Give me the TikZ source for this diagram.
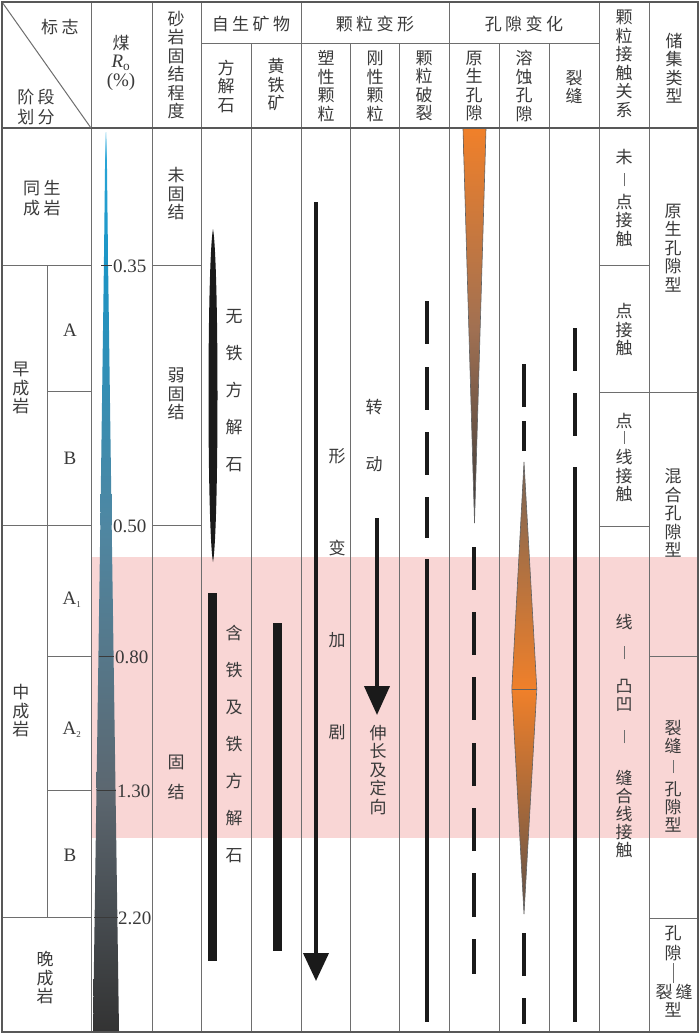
\documentclass[tikz,border=0pt]{standalone}
\usepackage{fontspec}
\setmainfont{Liberation Serif}
\newfontfamily\cjk{Noto Sans CJK SC}
\usetikzlibrary{arrows.meta}
\definecolor{gridc}{HTML}{6E6E6E}
\definecolor{txt}{HTML}{3A3A3A}
\definecolor{pinkc}{HTML}{F9D6D5}
\definecolor{barc}{HTML}{1A1A1A}
\definecolor{orng}{HTML}{F0802A}
\definecolor{brwn}{HTML}{A07052}
\definecolor{dgray}{HTML}{3A3A3A}
\newcommand\vbarx{\textcolor{gridc}{\rule{0.6pt}{13pt}}}
\newcommand\gapx{\hspace{3.5pt}}
\begin{document}
\begin{tikzpicture}[x=1pt,y=-1pt,
  grid/.style={draw=gridc,line width=1pt},
  frame/.style={draw=gridc!80!black,line width=1.3pt},
  cn/.style={font=\cjk\fontsize{17}{18.5}\selectfont,text=txt,align=center,inner sep=0pt},
  cnw/.style={font=\cjk\fontsize{17}{37}\selectfont,text=txt,align=center,inner sep=0pt},
  lat/.style={font=\fontsize{19}{19}\selectfont,text=txt,inner sep=0pt},
  num/.style={font=\fontsize{19}{19}\selectfont,text=txt,inner sep=0pt,anchor=west},
  barline/.style={draw=barc,line width=4pt},
  tick/.style={draw=dgray,line width=1pt},
  outl/.style={draw=dgray!80,line width=0.6pt}]
\useasboundingbox (0,0) rectangle (700,1034);
\fill[white] (0,0) rectangle (700,1034);
% pink band
\fill[pinkc] (91,557) rectangle (698,838);

% ---------- grid ----------
\foreach \x in {91,152,201,301,449,599,649} \draw[grid] (\x,2) -- (\x,1032);
\foreach \x in {251,350,399,499,549} \draw[grid] (\x,43) -- (\x,1032);
\draw[grid] (201,43) -- (599,43);
\draw[frame] (2,128) -- (698,128);
\draw[grid] (2,2) -- (91,128);
\draw[grid] (47,265) -- (47,917);
\draw[grid] (2,265) -- (91,265);
\draw[grid] (47,391) -- (91,391);
\draw[grid] (2,525) -- (91,525);
\draw[grid] (47,656) -- (91,656);
\draw[grid] (47,790) -- (91,790);
\draw[grid] (2,917) -- (91,917);
\draw[grid] (152,265) -- (201,265);
\draw[grid] (152,525) -- (201,525);
\draw[grid] (599,265) -- (649,265);
\draw[grid] (599,392) -- (649,392);
\draw[grid] (599,526) -- (649,526);
\draw[grid] (649,392) -- (698,392);
\draw[grid] (649,656) -- (698,656);
\draw[grid] (649,918) -- (698,918);
\draw[frame] (2,2) rectangle (698,1032);

% ---------- header ----------
\node[cn] (hbz) at (60,27) {标\gapx 志};
\node[cn,font=\cjk\fontsize{17}{20}\selectfont] (hjd) at (36,107) {阶\gapx 段\\划\gapx 分};
\node[cn] (hmei) at (121,43) {煤};
\node[lat] (hro) at (121,63) {\textit{R}\textsubscript{o}};
\node[lat] (hpc) at (121,82) {(\%)};
\node[cn] (hss) at (176,65) {砂\\岩\\固\\结\\程\\度};
\node[cn] (hzs) at (251,24) {自\gapx 生\gapx 矿\gapx 物};
\node[cn] (hkl) at (375,24) {颗\gapx 粒\gapx 变\gapx 形};
\node[cn] (hkx) at (524,24) {孔\gapx 隙\gapx 变\gapx 化};
\node[cn] (hfj) at (226,86) {方\\解\\石};
\node[cn] (hht) at (276,85) {黄\\铁\\矿};
\node[cn] (hsx) at (326,86) {塑\\性\\颗\\粒};
\node[cn] (hgx) at (375,86) {刚\\性\\颗\\粒};
\node[cn] (hpl) at (424,86) {颗\\粒\\破\\裂};
\node[cn] (hys) at (474,86) {原\\生\\孔\\隙};
\node[cn] (hrs) at (524,86) {溶\\蚀\\孔\\隙};
\node[cn] (hlf) at (574,87) {裂\\缝};
\node[cn] (hjc) at (624,64) {颗\\粒\\接\\触\\关\\系};
\node[cn] (hcj) at (674,68) {储\\集\\类\\型};

% ---------- stage column ----------
\node[cn,font=\cjk\fontsize{17}{20}\selectfont] (tsc) at (42,198) {同\gapx 生\\成\gapx 岩};
\node[cn] (zcy) at (21,388) {早\\成\\岩};
\node[cn] (mcy) at (21,711) {中\\成\\岩};
\node[cn] (wcy) at (45,978) {晚\\成\\岩};
\node[lat] (sA) at (70,330) {A};
\node[lat] (sB) at (70,458) {B};
\node[lat] (sA1) at (72,600) {A\textsubscript{\fontsize{9}{9}\selectfont 1}};
\node[lat] (sA2) at (72,730) {A\textsubscript{\fontsize{9}{9}\selectfont 2}};
\node[lat] (sB2) at (70,855) {B};

% ---------- coal Ro triangle ----------
\shade[top color={rgb,255:red,215;green,240;blue,250}, bottom color={rgb,255:red,40;green,164;blue,214}] (105.3,132) -- (106.7,132) -- (106.9,160.3) -- (105.1,160.3) -- cycle;
\shade[top color={rgb,255:red,40;green,164;blue,214}, bottom color={rgb,255:red,28;green,148;blue,196}] (105.1,160) -- (106.9,160) -- (108.1,265.3) -- (103.9,265.3) -- cycle;
\shade[top color={rgb,255:red,28;green,148;blue,196}, bottom color={rgb,255:red,79;green,135;blue,162}] (103.9,265) -- (108.1,265) -- (111.68,525.3) -- (100.32,525.3) -- cycle;
\shade[top color={rgb,255:red,79;green,135;blue,162}, bottom color={rgb,255:red,92;green,103;blue,112}] (100.32,525) -- (111.68,525) -- (115.52,790.3) -- (96.48,790.3) -- cycle;
\shade[top color={rgb,255:red,92;green,103;blue,112}, bottom color={rgb,255:red,51;green,51;blue,51}] (96.48,790) -- (115.52,790) -- (119,1031) -- (93,1031) -- cycle;
\draw[tick] (101,265) -- (112,265);
\draw[tick] (99,656) -- (114,656);
\draw[tick] (97,790) -- (116,790);
\draw[tick] (94,917) -- (118,917);
\node[num] (r035) at (113,266) {0.35};
\node[num] (r050) at (113,526) {0.50};
\node[num] (r080) at (115,657) {0.80};
\node[num] (r130) at (117,791) {1.30};
\node[num] (r220) at (118,918) {2.20};

% ---------- sandstone consolidation ----------
\node[cn] (wgj) at (176,194) {未\\固\\结};
\node[cn] (rgj) at (176,394) {弱\\固\\结};
\node[cn,font=\cjk\fontsize{17}{30}\selectfont] (gj) at (176,777) {固\\结};

% ---------- authigenic minerals ----------
\fill[barc] (213,229) .. controls (219,262) and (219,529) .. (213,562) .. controls (207,529) and (207,262) .. (213,229) -- cycle;
\node[cnw] (wtf) at (234,391) {无\\铁\\方\\解\\石};
\fill[barc] (208,593) rectangle (217,961);
\node[cnw] (htf) at (234,744) {含\\铁\\及\\铁\\方\\解\\石};
\fill[barc] (273,623) rectangle (282,951);

% ---------- grain deformation ----------
\coordinate (pa1) at (316,202);
\coordinate (pa2) at (316,981);
\draw[barline,-{Triangle[width=25pt,length=28pt]}] (pa1) -- (pa2);
\node[cn,font=\cjk\fontsize{17}{92}\selectfont] (xbjj) at (337,594) {形\\变\\加\\剧};
\node[cn,font=\cjk\fontsize{17}{57}\selectfont] (zd) at (374,436) {转\\动};
\coordinate (ra1) at (377,518);
\coordinate (ra2) at (377,715);
\draw[barline,-{Triangle[width=25pt,length=29pt]}] (ra1) -- (ra2);
\node[cn] (scdx) at (378,770) {伸\\长\\及\\定\\向};
\foreach \a/\b in {301/344,367/410,432/475,497/538,559/1022} \draw[barline] (427,\a) -- (427,\b);

% ---------- pore change ----------
\shade[top color=orng, bottom color=brwn] (463,129) -- (486,129) -- (480.1,330.3) -- (468.9,330.3) -- cycle;
\shade[top color=brwn, bottom color=dgray] (468.9,330) -- (480.1,330) -- (474.5,523) -- cycle;
\draw[outl] (463,129) -- (474.5,523) -- (486,129);
\foreach \a/\b in {547/590,612/655,677/720,743/786,808/851,873/917,939/974} \draw[barline] (474,\a) -- (474,\b);

\shade[top color={rgb,255:red,120;green,100;blue,85}, bottom color=orng] (524,462) -- (536.8,689.3) -- (511.8,689.3) -- cycle;
\shade[top color=orng, bottom color={rgb,255:red,95;green,82;blue,74}] (511.8,689) -- (536.8,689) -- (524,914) -- cycle;
\draw[outl] (524,462) -- (536.8,689) -- (524,914) -- (511.8,689) -- cycle;
\draw[outl] (511.8,689) -- (536.8,689);
\foreach \a/\b in {364/407,421/451,933/976,998/1024} \draw[barline] (524,\a) -- (524,\b);

\foreach \a/\b in {328/371,393/436,467/1022} \draw[barline] (575,\a) -- (575,\b);

% ---------- grain contact ----------
\node[cn] (c1) at (624,198) {未\\[4.5pt]\vbarx\\[3.5pt]点\\接\\触};
\node[cn] (c2) at (624,330) {点\\接\\触};
\node[cn] (c3) at (624,458) {点\\[-2.5pt]\vbarx\\[1.5pt]线\\接\\触};
\node[cn,font=\cjk\fontsize{17}{18}\selectfont] (c4) at (624,736) {线\\[13pt]\vbarx\\[15pt]凸\\凹\\[15pt]\vbarx\\[23pt]缝\\合\\线\\接\\触};

% ---------- reservoir type ----------
\node[cn] (t1) at (673,248) {原\\生\\孔\\隙\\型};
\node[cn] (t2) at (673,513) {混\\合\\孔\\隙\\型};
\node[cn,font=\cjk\fontsize{17}{18}\selectfont] (t3) at (673,776) {裂\\缝\\[3pt]\vbarx\\[4pt]孔\\隙\\型};
\node[cn] (t4a) at (673,933) {孔};
\node[cn] (t4b) at (673,953) {隙};
\draw[gridc,line width=0.6pt] (673,963) -- (673,983);
\node[cn] (t4c) at (664,992) {裂};
\node[cn] (t4d) at (684,992) {缝};
\node[cn] (t4e) at (673,1010) {型};
\end{tikzpicture}
\end{document}
